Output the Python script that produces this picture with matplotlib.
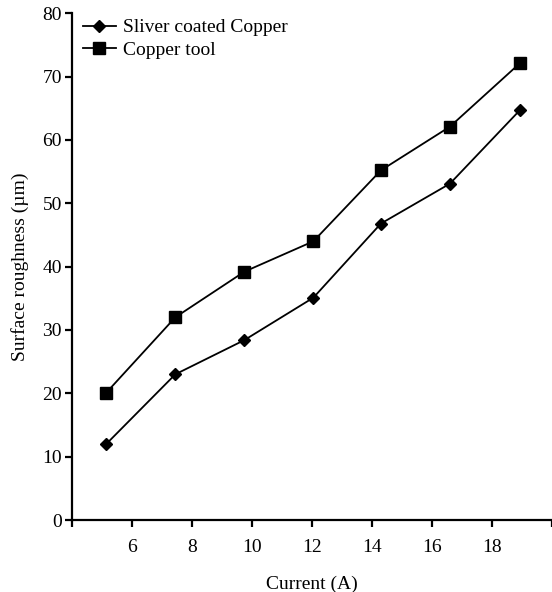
import matplotlib.pyplot as plt
import numpy as np

# ========== 1. Data ==========
current = [5.15, 7.45, 9.75, 12.05, 14.3, 16.6, 18.95]
silver_coated = [12.0, 23.0, 28.4, 35.1, 46.8, 53.1, 64.8]
copper_tool = [20.1, 32.0, 39.2, 44.0, 55.2, 62.1, 72.2]

x_ticks = [4, 6, 8, 10, 12, 14, 16, 18, 20]
x_labels = ['', '6', '8', '10', '12', '14', '16', '18', '']
y_ticks = [0, 10, 20, 30, 40, 50, 60, 70, 80]

# ========== 2. Draw ==========
plt.rcParams['font.family'] = ['Liberation Serif', 'DejaVu Serif']

fig = plt.figure(figsize=(5.52, 5.92), dpi=100)
ax = fig.add_axes([0.13, 0.1216, 0.87, 0.856])

ax.plot(current, silver_coated, color='black', lw=1.3, marker='D', ms=6.5,
        label='Sliver coated Copper')
ax.plot(current, copper_tool, color='black', lw=1.3, marker='s', ms=9,
        label='Copper tool')

ax.set_xlim(4, 20)
ax.set_ylim(0, 80)
ax.set_xticks(x_ticks)
ax.set_xticklabels(x_labels)
ax.set_yticks(y_ticks)

ax.spines['top'].set_visible(False)
ax.spines['right'].set_visible(False)
ax.spines['left'].set_linewidth(1.6)
ax.spines['bottom'].set_linewidth(1.6)
ax.tick_params(axis='both', direction='out', length=5, width=1.6,
               labelsize=14, colors='black')
ax.tick_params(axis='x', pad=9)
ax.tick_params(axis='y', pad=2)

ax.set_xlabel('Current (A)', fontsize=14, labelpad=14)
ax.set_ylabel('Surface roughness (µm)', fontsize=14, labelpad=10)

ax.legend(loc='upper left', bbox_to_anchor=(0.0, 1.012), frameon=False,
          fontsize=14, handlelength=1.65, handletextpad=0.4,
          labelspacing=0.25, borderaxespad=0.2)

# ========== 3. Save ==========
plt.savefig('out.png', dpi=100)
